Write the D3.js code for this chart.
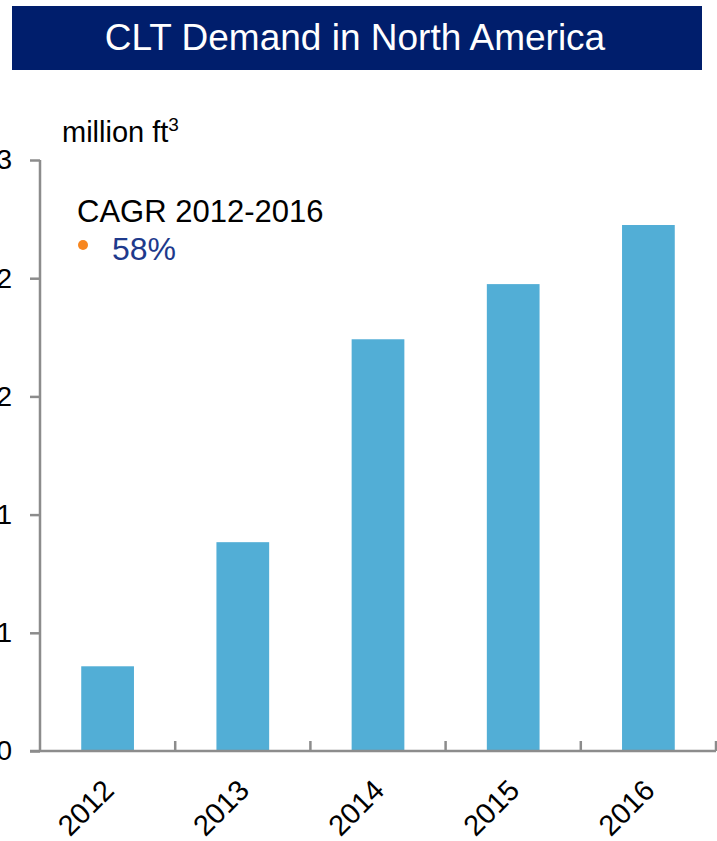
<!DOCTYPE html>
<html><head><meta charset="utf-8">
<script src="https://cdn.jsdelivr.net/npm/d3@7"></script>
<style>body{margin:0;background:#fff;}svg{display:block;font-family:"Liberation Sans",Arial,sans-serif;}</style>
</head><body>
<script>
const categories = ["2012","2013","2014","2015","2016"];
const values = [0.43, 1.06, 2.09, 2.37, 2.67];
const yTicks = [0, 0.6, 1.2, 1.8, 2.4, 3.0];
const title = "CLT Demand in North America";
const unitLabel = "million ft";
const cagrLabel = "CAGR 2012-2016";
const cagrValue = "58%";

const W = 717, H = 841;
const svg = d3.select("body").append("svg").attr("width", W).attr("height", H);

// Title banner
svg.append("rect").attr("x", 12).attr("y", 6).attr("width", 690).attr("height", 64).attr("fill", "#001E6C");
svg.append("text").attr("x", 355).attr("y", 50).attr("text-anchor", "middle")
  .attr("fill", "#fff").attr("font-size", 37).text(title);

const x = d3.scaleBand().domain(categories).range([40, 716]).paddingInner(0.61).paddingOuter(0.305);
const y = d3.scaleLinear().domain([0, 3]).range([751, 160]);

// bars
svg.selectAll("rect.bar").data(values).join("rect").attr("class", "bar")
  .attr("x", (d, i) => x(categories[i])).attr("width", x.bandwidth())
  .attr("y", d => y(d)).attr("height", d => y(0) - y(d)).attr("fill", "#52AED6");

// y axis
const yAxis = svg.append("g").attr("transform", "translate(40,0)")
  .call(d3.axisLeft(y).tickValues(yTicks).tickFormat(d3.format(".0f")).tickSize(10).tickPadding(18));
yAxis.select(".domain").attr("stroke", "#8c8c8c").attr("stroke-width", 2.5).attr("d", `M0,${y(3)}V${y(0)}`);
yAxis.selectAll(".tick line").attr("stroke", "#8c8c8c").attr("stroke-width", 2.5);
yAxis.selectAll(".tick text").attr("font-size", 28).attr("fill", "#000").attr("font-family", "Liberation Sans, Arial, sans-serif");

// x axis
const xAxis = svg.append("g").attr("transform", `translate(0,${y(0)})`)
  .call(d3.axisBottom(x).tickSize(0).tickFormat(""));
xAxis.select(".domain").attr("stroke", "#8c8c8c").attr("stroke-width", 2.5).attr("d", `M30,0H716`);
// boundary ticks pointing up
const step = x.step();
const bounds = categories.map((c, i) => x(c) - x.step() * x.paddingInner() / 2 + step).filter(v => v <= 716);
svg.append("g").selectAll("line").data(bounds).join("line")
  .attr("x1", d => d).attr("x2", d => d).attr("y1", y(0)).attr("y2", y(0) - 10)
  .attr("stroke", "#8c8c8c").attr("stroke-width", 2.5);

// x labels
svg.append("g").selectAll("text").data(categories).join("text")
  .attr("transform", d => `translate(${x(d) + x.bandwidth() / 2 + 8},${y(0) + 41}) rotate(-45)`)
  .attr("text-anchor", "end").attr("font-size", 29).attr("fill", "#000").text(d => d);

// unit label
const ut = svg.append("text").attr("x", 62).attr("y", 142).attr("font-size", 29).attr("fill", "#000");
ut.append("tspan").text(unitLabel);
ut.append("tspan").attr("font-size", 19).attr("dy", -11).text("3");

// CAGR
svg.append("text").attr("x", 77).attr("y", 222).attr("font-size", 31).attr("fill", "#000").text(cagrLabel);
svg.append("circle").attr("cx", 83).attr("cy", 245).attr("r", 5).attr("fill", "#F7861F");
svg.append("text").attr("x", 112).attr("y", 260).attr("font-size", 32).attr("fill", "#1E3A8C").text(cagrValue);
</script>
</body></html>
